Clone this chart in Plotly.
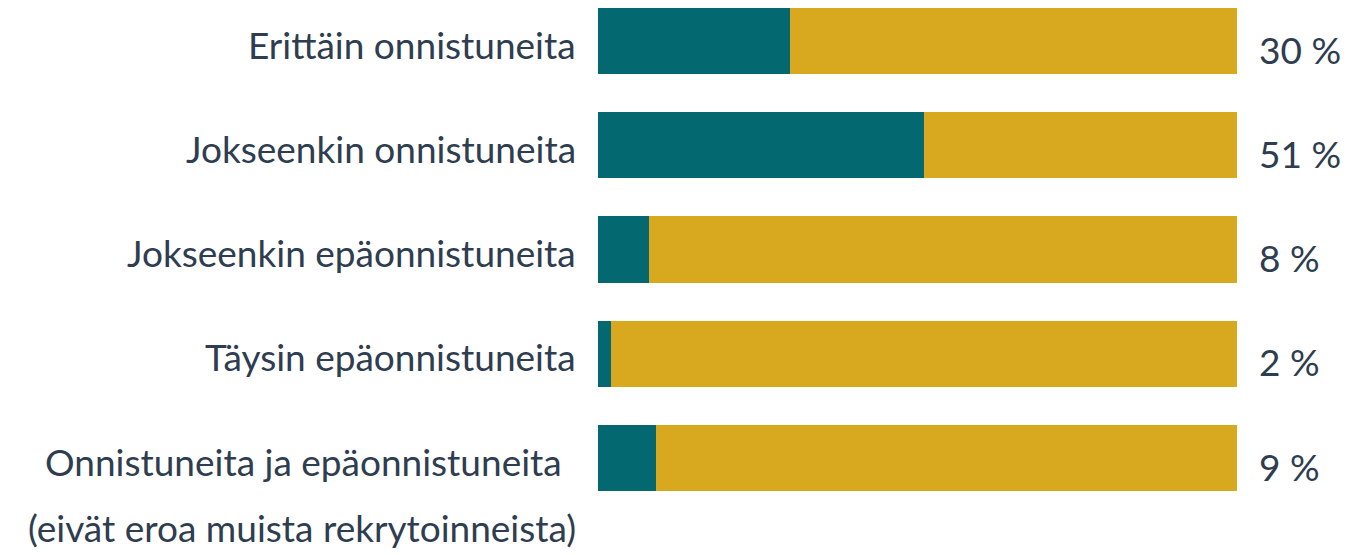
import plotly.graph_objects as go

categories = [
    "Erittäin onnistuneita",
    "Jokseenkin onnistuneita",
    "Jokseenkin epäonnistuneita",
    "Täysin epäonnistuneita",
    "Onnistuneita ja epäonnistuneita",
]
label_note = "(eivät eroa muista rekrytoinneista)"
share = [30, 51, 8, 2, 9]
rest = [100 - v for v in share]
pct_labels = [f"{v} %" for v in share]

TEAL = "#036870"
GOLD = "#d8a91f"
TEXT = "#2e3d4f"
FONT = "Lato"
FS = 37

idx = list(range(len(categories)))

fig = go.Figure()
fig.add_trace(go.Bar(y=idx, x=share, orientation="h", marker=dict(color=TEAL, line=dict(width=0)),
                     width=0.635, showlegend=False, hoverinfo="skip"))
fig.add_trace(go.Bar(y=idx, x=rest, orientation="h", marker=dict(color=GOLD, line=dict(width=0)),
                     width=0.635, showlegend=False, hoverinfo="skip"))

for i, cat in enumerate(categories):
    fig.add_annotation(x=0, y=i, xref="x", yref="y", text=cat, showarrow=False,
                       xanchor="right", yanchor="middle", xshift=-20 if i < 4 else -34, yshift=-3,
                       font=dict(family=FONT, size=FS, color=TEXT))
    fig.add_annotation(x=100, y=i, xref="x", yref="y", text=pct_labels[i], showarrow=False,
                       xanchor="left", yanchor="middle", xshift=20, yshift=-8,
                       font=dict(family=FONT, size=FS, color=TEXT))

fig.add_annotation(x=0, y=len(categories) - 1, xref="x", yref="y", text=label_note, showarrow=False,
                   xanchor="right", yanchor="middle", xshift=-20, yshift=-69,
                   font=dict(family=FONT, size=FS, color=TEXT))

fig.update_layout(
    barmode="stack",
    width=1366, height=555,
    margin=dict(l=590, r=137, t=0, b=0),
    paper_bgcolor="white", plot_bgcolor="white",
    xaxis=dict(range=[0, 100], visible=False, fixedrange=True),
    yaxis=dict(range=[5.007, -0.3165], visible=False, fixedrange=True),
)

fig.write_html("out.html", config={"displayModeBar": False})
